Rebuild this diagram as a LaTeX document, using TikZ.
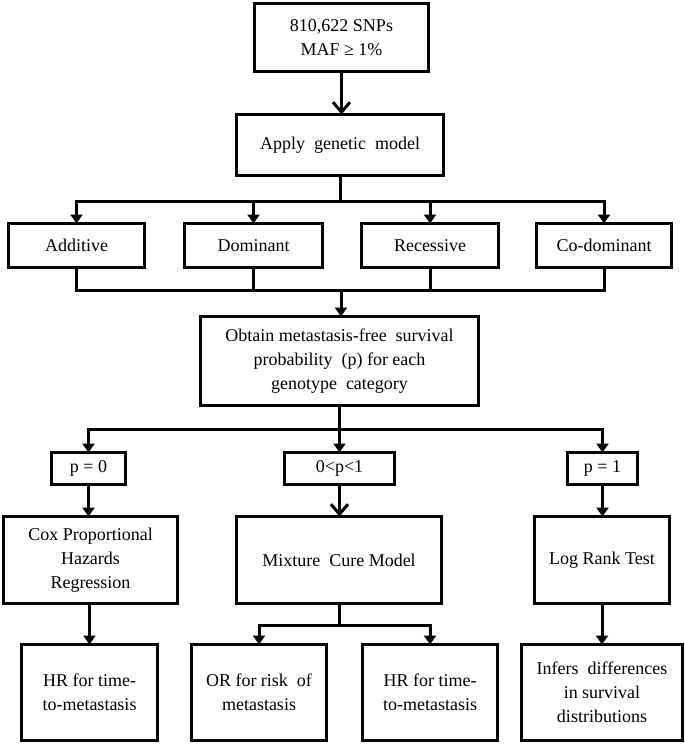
\documentclass[tikz,border=0pt]{standalone}
\usepackage{fontspec}
\setmainfont{Liberation Serif}
\usetikzlibrary{arrows.meta}
\newcommand{\wsp}{\hspace{0.5em}}
\begin{document}
\begin{tikzpicture}[x=1pt,y=-1pt, line width=3pt, line join=miter,
  box/.style={draw, rectangle, inner sep=0pt, outer sep=0pt, align=center,
    font=\fontsize{18}{24}\selectfont},
  sz/.style 2 args={minimum width=#1pt, minimum height=#2pt},
  arr/.style={-{Triangle[length=9pt,width=12pt]}},
  varr/.style={-{Straight Barb[length=10pt,width=17pt]}}]
\useasboundingbox (0,0) rectangle (685,745);

% nodes
\node[box, sz={174}{68}] (snp) at (341.5,37.5) {810,622 SNPs\\MAF ≥ 1\%};
\node[box, sz={207}{61}] (apply) at (340,145) {Apply\wsp genetic\wsp model};

\node[box, sz={136}{44}] (additive) at (76.5,245.5) {Additive};
\node[box, sz={138}{44}] (dominant) at (253.5,245.5) {Dominant};
\node[box, sz={137}{44}] (recessive) at (430,245.5) {Recessive};
\node[box, sz={135}{44}] (codominant) at (604,245.5) {Co-dominant};

\node[box, sz={278}{89}] (obtain) at (339.5,361)
  {Obtain metastasis-free\wsp survival\\probability\wsp (p) for each\\genotype\wsp category};

\node[box, sz={74}{32}] (p0) at (88.5,468.5) {p = 0};
\node[box, sz={110}{32}] (pmid) at (339.5,468.5) {0<p<1};
\node[box, sz={70}{32}] (p1) at (602.5,468.5) {p = 1};

\node[box, sz={174}{87}] (cox) at (90.5,560) {Cox Proportional\\Hazards\\Regression};
\node[box, sz={205}{87}] (mix) at (339,560) {Mixture\wsp Cure Model};
\node[box, sz={135}{87}] (logrank) at (602,560) {Log Rank Test};

\node[box, sz={136}{96}] (hr1) at (89.5,692.5) {HR for time-\\to-metastasis};
\node[box, sz={135}{96}] (or) at (259,692.5) {OR for risk\wsp of\\metastasis};
\node[box, sz={135}{96}] (hr2) at (430,692.5) {HR for time-\\to-metastasis};
\node[box, sz={161}{96}] (infers) at (602,692.5) {Infers\wsp differences\\in survival\\distributions};

% junction coordinates
\coordinate (j1) at (340,201);
\coordinate (m1) at (341,290);
\coordinate (j3) at (339.5,429);
\coordinate (j4) at (339,625);

% connectors
\draw[varr] (snp.south) -- (snp.south |- apply.north);

\draw (apply.south) -- (j1);
\draw[arr] (j1) -| (additive.north);
\draw[arr] (j1) -| (codominant.north);
\draw[arr] (j1 -| dominant.north) -- (dominant.north);
\draw[arr] (j1 -| recessive.north) -- (recessive.north);

\draw (additive.south) |- (m1) -| (codominant.south);
\draw (dominant.south) -- (dominant.south |- m1);
\draw (recessive.south) -- (recessive.south |- m1);
\draw[arr] (m1) -- (m1 |- obtain.north);

\draw (obtain.south) -- (j3);
\draw[arr] (j3) -| (p0.north);
\draw[arr] (j3) -| (p1.north);
\draw[arr] (j3) -- (pmid.north);

\draw[arr] (p0.south) -- (cox.north -| p0.south);
\draw[varr] (pmid.south) -- (mix.north -| pmid.south);
\draw[arr] (p1.south) -- (logrank.north -| p1.south);

\draw[arr] (cox.south -| hr1.north) -- (hr1.north);
\draw (mix.south) -- (j4);
\draw[arr] (j4) -| (or.north);
\draw[arr] (j4) -| (hr2.north);
\draw[arr] (logrank.south) -- (infers.north);
\end{tikzpicture}
\end{document}
